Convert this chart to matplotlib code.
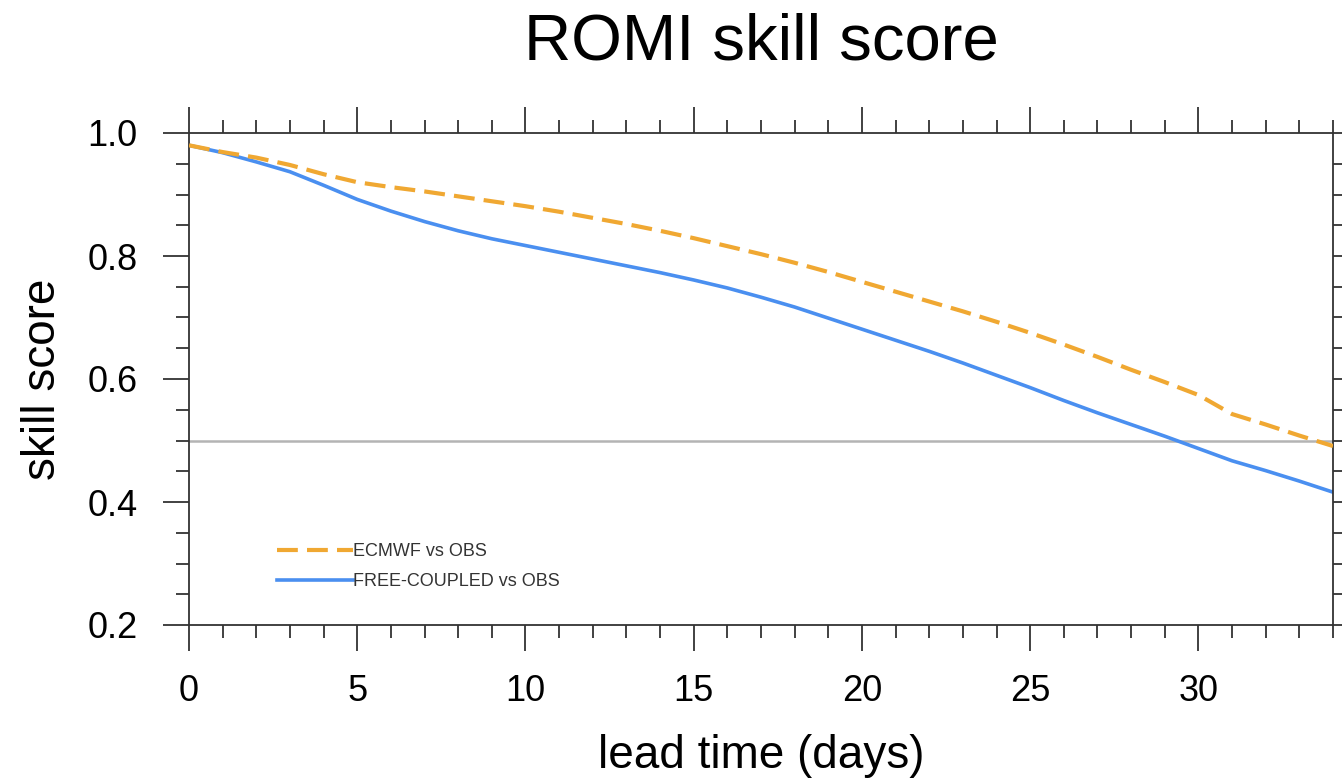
import matplotlib
matplotlib.use("Agg")
import matplotlib.pyplot as plt
from matplotlib.ticker import MultipleLocator, FormatStrFormatter

# lead time (days) and skill scores
days = list(range(35))
ecmwf = [
    0.980, 0.969, 0.960, 0.948, 0.933, 0.920, 0.912, 0.905, 0.897, 0.889,
    0.881, 0.872, 0.862, 0.852, 0.841, 0.829, 0.816, 0.803, 0.789, 0.774,
    0.758, 0.742, 0.726, 0.710, 0.693, 0.675, 0.656, 0.636, 0.615, 0.595,
    0.574, 0.543, 0.526, 0.508, 0.491,
]
free_coupled = [
    0.980, 0.968, 0.953, 0.937, 0.915, 0.892, 0.873, 0.856, 0.841, 0.828,
    0.817, 0.806, 0.795, 0.784, 0.773, 0.761, 0.748, 0.733, 0.717, 0.699,
    0.681, 0.663, 0.645, 0.626, 0.606, 0.586, 0.565, 0.545, 0.526, 0.507,
    0.487, 0.467, 0.451, 0.434, 0.416,
]
series_labels = ["ECMWF vs OBS", "FREE-COUPLED vs OBS"]
threshold = 0.5

plt.rcParams["font.family"] = ["Liberation Sans", "DejaVu Sans"]

fig = plt.figure(figsize=(13.42, 7.79), dpi=100)
ax = fig.add_axes([189 / 1342, 1 - 625 / 779, 1144 / 1342, 492 / 779])

ax.axhline(threshold, color="#b4b4b4", linewidth=1.8, zorder=1)
ax.plot(days, ecmwf, color="#f0a832", linewidth=3.0, dashes=(5, 2.2),
        dash_capstyle="butt", label=series_labels[0], zorder=3)
ax.plot(days, free_coupled, color="#4a8ff0", linewidth=2.6,
        label=series_labels[1], zorder=2)

ax.set_xlim(0, 34)
ax.set_ylim(0.2, 1.0)
ax.xaxis.set_major_locator(MultipleLocator(5))
ax.xaxis.set_minor_locator(MultipleLocator(1))
ax.yaxis.set_major_locator(MultipleLocator(0.2))
ax.yaxis.set_minor_locator(MultipleLocator(0.05))
ax.yaxis.set_major_formatter(FormatStrFormatter("%.1f"))

ax.tick_params(which="both", direction="out", top=True, right=True,
               color="#333333", width=1.3)
ax.tick_params(which="major", length=19)
ax.tick_params(which="minor", length=9.5)
ax.tick_params(axis="x", labelsize=26, pad=16)
ax.tick_params(axis="y", labelsize=26, pad=18)
for spine in ax.spines.values():
    spine.set_color("#333333")
    spine.set_linewidth(1.3)

ax.set_xlabel("lead time (days)", fontsize=33, labelpad=18)
ax.set_ylabel("skill score", fontsize=33, labelpad=16)
fig.text(0.567, 0.945, "ROMI skill score", fontsize=47, ha="center", va="center")

leg = ax.legend(loc="center left", bbox_to_anchor=(0.077, 0.119), frameon=False,
                fontsize=13, handlelength=4.2, handletextpad=0.0, borderpad=0,
                borderaxespad=0, labelspacing=0.72)
for text in leg.get_texts():
    text.set_color("#333333")

fig.savefig("out.png", dpi=100)
